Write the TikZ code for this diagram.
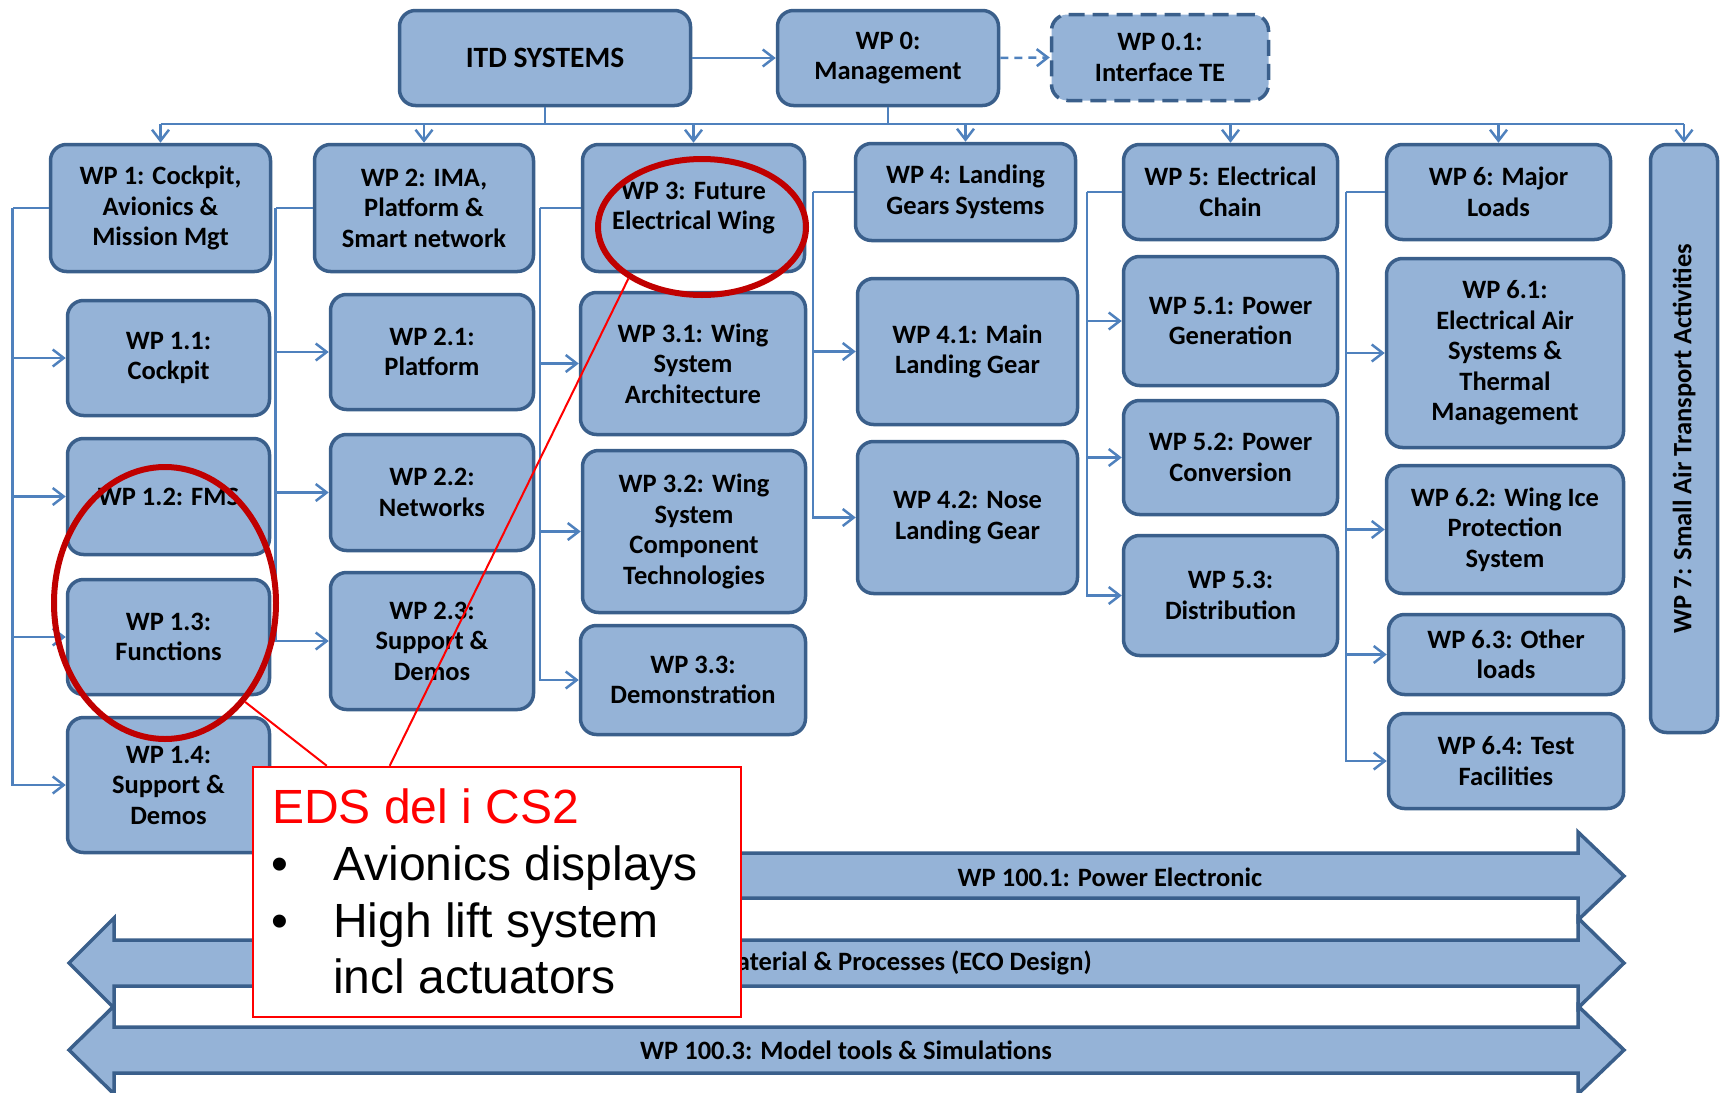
\documentclass[tikz,border=0pt]{standalone}
\usepackage{fontspec}
\setmainfont{Carlito}
\newfontfamily\arialf{Liberation Sans}
\usetikzlibrary{arrows.meta,shapes.geometric,calc}
\definecolor{boxfill}{HTML}{95B3D7}
\definecolor{boxline}{HTML}{3A5F8B}
\definecolor{conncol}{HTML}{4F81BD}
\definecolor{ringred}{HTML}{C00000}
\definecolor{calred}{HTML}{FF0000}
\tikzset{
  wpbox/.style={draw=boxline, fill=boxfill, line width=3.5pt, rounded corners=16pt,
    align=center, inner sep=2pt, text=black,
    font=\fontsize{26.5}{30.5}\selectfont\bfseries},
  conn/.style={draw=conncol, line width=2.5pt},
  connarrow/.style={conn, -{Straight Barb[length=11pt,width=17pt]}},
  blockarrow/.style={draw=boxline, fill=boxfill, line width=3.5pt, line join=miter},
  barlabel/.style={font=\fontsize{26.5}{30.5}\selectfont\bfseries, text=black, inner sep=0pt},
  ring/.style={ellipse, draw=ringred, line width=6pt, inner sep=0pt},
  calltext/.style={font=\arialf\fontsize{48}{57}\selectfont, anchor=base west, inner sep=0pt, text=black},
  callline/.style={draw=calred, line width=2pt}
}
\begin{document}
\begin{tikzpicture}[x=1pt,y=-1pt]
\clip (0,0) rectangle (1723,1092);

% ---- top row ----
\node[wpbox, font=\fontsize{29.5}{34}\selectfont\bfseries, minimum width=291, minimum height=95] (itd) at (545,58) {ITD SYSTEMS};
\node[wpbox, minimum width=221, minimum height=95] (wp0) at (888,58) {WP 0:\\Management};
\node[wpbox, dash pattern=on 16pt off 8pt, minimum width=217, minimum height=86] (wp01) at (1160,57.5) {WP 0.1:\\Interface TE};

% ---- level 1 ----
\node[wpbox, minimum width=220, minimum height=127] (wp1) at (160.5,208) {WP 1: Cockpit,\\Avionics \&\\Mission Mgt};
\node[wpbox, minimum width=219, minimum height=127] (wp2) at (424,208) {WP 2: IMA,\\Platform \&\\Smart network};
\node[wpbox, minimum width=222, minimum height=127] (wp3) at (693.5,208) {WP 3: Future\\Electrical Wing};
\node[wpbox, minimum width=220, minimum height=97] (wp4) at (965.5,192) {WP 4: Landing\\Gears Systems};
\node[wpbox, minimum width=214, minimum height=95] (wp5) at (1230.5,192) {WP 5: Electrical\\Chain};
\node[wpbox, minimum width=224, minimum height=95] (wp6) at (1498.5,192) {WP 6: Major\\Loads};
\node[wpbox, rotate=90, minimum width=588, minimum height=67] (wp7) at (1684,438.5) {WP 7: Small Air Transport Activities};

% ---- WP1 children ----
\node[wpbox, minimum width=202, minimum height=115] (wp11) at (168.5,358) {WP 1.1:\\Cockpit};
\node[wpbox, minimum width=202, minimum height=116] (wp12) at (168.5,496.5) {WP 1.2: FMS};
\node[wpbox, minimum width=202, minimum height=115] (wp13) at (168.5,637) {WP 1.3:\\Functions};
\node[wpbox, minimum width=202, minimum height=135] (wp14) at (168.5,785) {WP 1.4:\\Support \&\\Demos};

% ---- WP2 children ----
\node[wpbox, minimum width=203, minimum height=115] (wp21) at (432,352) {WP 2.1:\\Platform};
\node[wpbox, minimum width=203, minimum height=116] (wp22) at (432,492.5) {WP 2.2:\\Networks};
\node[wpbox, minimum width=203, minimum height=137] (wp23) at (432,641) {WP 2.3:\\Support \&\\Demos};

% ---- WP3 children ----
\node[wpbox, minimum width=225, minimum height=142] (wp31) at (693,363.5) {WP 3.1: Wing\\System\\Architecture};
\node[wpbox, minimum width=223, minimum height=162] (wp32) at (694,531.5) {WP 3.2: Wing\\System\\Component\\Technologies};
\node[wpbox, minimum width=225, minimum height=109] (wp33) at (693,680) {WP 3.3:\\Demonstration};

% ---- WP4 children ----
\node[wpbox, minimum width=220, minimum height=146] (wp41) at (967.5,351.5) {WP 4.1: Main\\Landing Gear};
\node[wpbox, minimum width=220, minimum height=152] (wp42) at (967.5,517.5) {WP 4.2: Nose\\Landing Gear};

% ---- WP5 children ----
\node[wpbox, minimum width=214, minimum height=129] (wp51) at (1230.5,321) {WP 5.1: Power\\Generation};
\node[wpbox, minimum width=214, minimum height=114] (wp52) at (1230.5,457.5) {WP 5.2: Power\\Conversion};
\node[wpbox, minimum width=214, minimum height=120] (wp53) at (1230.5,595.5) {WP 5.3:\\Distribution};

% ---- WP6 children ----
\node[wpbox, minimum width=237, minimum height=189] (wp61) at (1505,353) {WP 6.1:\\Electrical Air\\Systems \&\\Thermal\\Management};
\node[wpbox, minimum width=237, minimum height=128] (wp62) at (1505,529.5) {WP 6.2: Wing Ice\\Protection\\System};
\node[wpbox, minimum width=235, minimum height=80] (wp63) at (1506,654.5) {WP 6.3: Other\\loads};
\node[wpbox, minimum width=235, minimum height=95] (wp64) at (1506,761) {WP 6.4: Test\\Facilities};

% ---- top connectors ----
\draw[connarrow] (itd.east) -- (wp0.west);
\draw[connarrow, dash pattern=on 8pt off 6pt] (wp0.east) -- (wp01.west);
\coordinate (bus) at (0,124);
\draw[conn] (itd.south) -- (itd.south |- bus);
\draw[conn] (wp0.south) -- (wp0.south |- bus);
\draw[conn] (wp1.north |- bus) -- (wp7.east |- bus);
\foreach \n in {wp1,wp2,wp3,wp4,wp5,wp6}
  \draw[connarrow] (\n.north |- bus) -- (\n.north);
\draw[connarrow] (wp7.east |- bus) -- (wp7.east);

% ---- branch connectors ----
\coordinate (bx1) at (12.6,0);
\coordinate (bx2) at (275.5,0);
\coordinate (bx3) at (540,0);
\coordinate (bx4) at (813,0);
\coordinate (bx5) at (1087,0);
\coordinate (bx6) at (1346,0);
\draw[conn] (wp1.west) -- (wp1.west -| bx1);
\foreach \n in {wp11,wp12,wp13,wp14} \draw[connarrow] (wp1.west -| bx1) |- (\n.west);
\draw[conn] (wp2.west) -- (wp2.west -| bx2);
\foreach \n in {wp21,wp22,wp23} \draw[connarrow] (wp2.west -| bx2) |- (\n.west);
\draw[conn] (wp3.west) -- (wp3.west -| bx3);
\foreach \n in {wp31,wp32,wp33} \draw[connarrow] (wp3.west -| bx3) |- (\n.west);
\draw[conn] (wp4.west) -- (wp4.west -| bx4);
\foreach \n in {wp41,wp42} \draw[connarrow] (wp4.west -| bx4) |- (\n.west);
\draw[conn] (wp5.west) -- (wp5.west -| bx5);
\foreach \n in {wp51,wp52,wp53} \draw[connarrow] (wp5.west -| bx5) |- (\n.west);
\draw[conn] (wp6.west) -- (wp6.west -| bx6);
\foreach \n in {wp61,wp62,wp63,wp64} \draw[connarrow] (wp6.west -| bx6) |- (\n.west);

% ---- bottom block arrows ----
\draw[blockarrow] (300,853) -- (1578,853) -- (1578,832) -- (1624,876) -- (1578,920) -- (1578,898) -- (300,898) -- cycle;
\draw[blockarrow] (114,940) -- (1578,940) -- (1578,918) -- (1624,963) -- (1578,1008) -- (1578,986) -- (114,986) -- (114,1008) -- (69,963) -- (114,918) -- cycle;
\draw[blockarrow] (114,1027) -- (1578,1027) -- (1578,1006) -- (1624,1050) -- (1578,1094) -- (1578,1073) -- (114,1073) -- (114,1094) -- (69,1050) -- (114,1006) -- cycle;
\node[barlabel] (bar1) at (1110,877) {WP 100.1: Power Electronic};
\node[barlabel, anchor=east] (bar2) at (1092,963) {aterial \& Processes (ECO Design)};
\node[barlabel] (bar3) at (846,1050) {WP 100.3: Model tools \& Simulations};

% ---- red annotations ----
\node[ring, minimum width=208, minimum height=136] (ring1) at (702,227) {};
\node[ring, minimum width=222, minimum height=272] (ring2) at (165,603) {};
\node[draw=calred, line width=2.5pt, fill=white, minimum width=488, minimum height=250, inner sep=0pt] (callout) at (497,892) {};
\draw[callline] (ring1.215) -- ($(callout.north west)+(138,0)$);
\draw[callline] (ring2.309) -- ($(callout.north west)+(75,0)$);
\node[calltext, text=calred] (ctitle) at (272,823) {EDS del i CS2};
\node[calltext] (cb1) at (271,880) {•};
\node[calltext] (ct1) at (333,880) {Avionics displays};
\node[calltext] (cb2) at (271,937) {•};
\node[calltext] (ct2) at (333,937) {High lift system};
\node[calltext] (ct3) at (333,993) {incl actuators};
\end{tikzpicture}
\end{document}
